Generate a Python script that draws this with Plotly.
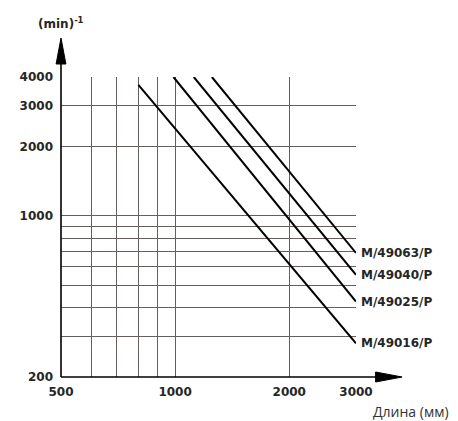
import math
import plotly.graph_objects as go

# Data
series_names = ["M/49016/P", "M/49025/P", "M/49040/P", "M/49063/P"]
length_mm = [
    [800, 3000],
    [990, 3000],
    [1120, 3000],
    [1250, 3000],
]
speed_rpm = [
    [3700, 280],
    [4000, 425],
    [4000, 555],
    [4000, 690],
]
x_tickvals = [500, 1000, 2000, 3000]
x_ticktext = ["500", "1000", "2000", "3000"]
x_minor_grid = [600, 700, 800, 900]
y_tickvals = [200, 1000, 2000, 3000, 4000]
y_ticktext = ["200", "1000", "2000", "3000", "4000"]
y_minor_grid = [300, 400, 500, 600, 700, 800, 900]
x_range = [500, 3000]
y_range = [200, 4000]

GRID = "#665d5d"
TXT = "#262626"
TICKFONT = dict(family="DejaVu Sans", size=12, color=TXT, weight="bold")

# page body has an 8px margin; draw in reference pixel coords shifted by it
OFF = 8
W, H = 458 - OFF, 421 - OFF
L, T = 55 - OFF, 77 - OFF
R = W - (356 - OFF)
B = H - (377 - OFF)
pw, ph = W - L - R, H - T - B

def px(x):
    return (x - OFF - L) / pw

def py(y):
    return (H - B - (y - OFF)) / ph

fig = go.Figure()
for name, xs, ys in zip(series_names, length_mm, speed_rpm):
    fig.add_trace(go.Scatter(x=xs, y=ys, mode="lines", name=name,
                             line=dict(color="black", width=2), showlegend=False,
                             hoverinfo="skip"))
    fig.add_annotation(x=math.log10(xs[-1]), y=math.log10(ys[-1]), xref="x", yref="y",
                       text=name, showarrow=False, xanchor="left", yanchor="middle",
                       xshift=3, font=dict(family="DejaVu Sans", size=12, color=TXT,
                                           weight="bold"))

grid_common = dict(type="log", showgrid=True, gridcolor=GRID, gridwidth=1.4,
                   zeroline=False, showline=False, ticks="", tickfont=TICKFONT)
fig.update_xaxes(range=[math.log10(v) for v in x_range],
                 tickvals=x_tickvals, ticktext=x_ticktext, ticklabelstandoff=6,
                 minor=dict(tickvals=x_minor_grid, showgrid=True, gridcolor=GRID,
                            gridwidth=1.4, ticks=""),
                 **grid_common)
fig.update_yaxes(range=[math.log10(v) for v in y_range],
                 tickvals=y_tickvals, ticktext=y_ticktext, ticklabelstandoff=7,
                 minor=dict(tickvals=y_minor_grid, showgrid=True, gridcolor=GRID,
                            gridwidth=1.4, ticks=""),
                 **grid_common)

shapes = [
    dict(type="line", xref="paper", yref="paper", x0=0, x1=0, y0=0, y1=py(60),
         line=dict(color="black", width=1.6)),
    dict(type="path", xref="paper", yref="paper",
         path=f"M {px(55)},{py(38)} L {px(50)},{py(64)} L {px(60)},{py(64)} Z",
         fillcolor="black", line=dict(color="black", width=1)),
    dict(type="line", xref="paper", yref="paper", x0=0, x1=px(380), y0=0, y1=0,
         line=dict(color="black", width=1.6)),
    dict(type="path", xref="paper", yref="paper",
         path=f"M {px(403)},{py(377)} L {px(376)},{py(372)} L {px(376)},{py(382)} Z",
         fillcolor="black", line=dict(color="black", width=1)),
]

fig.add_annotation(xref="paper", yref="paper", x=px(55), y=py(23), text="(min)<sup>-1</sup>",
                   showarrow=False, xanchor="center", yanchor="middle",
                   font=dict(family="DejaVu Sans", size=12, color=TXT, weight="bold"))
fig.add_annotation(xref="paper", yref="paper", x=px(412), y=py(411), text="Длина (мм)",
                   showarrow=False, xanchor="center", yanchor="middle",
                   font=dict(family="Open Sans", size=14, color="#333333"))

fig.update_layout(width=W, height=H, margin=dict(l=L, r=R, t=T, b=B),
                  paper_bgcolor="white", plot_bgcolor="white", shapes=shapes,
                  showlegend=False)

fig.write_html("out.html")
